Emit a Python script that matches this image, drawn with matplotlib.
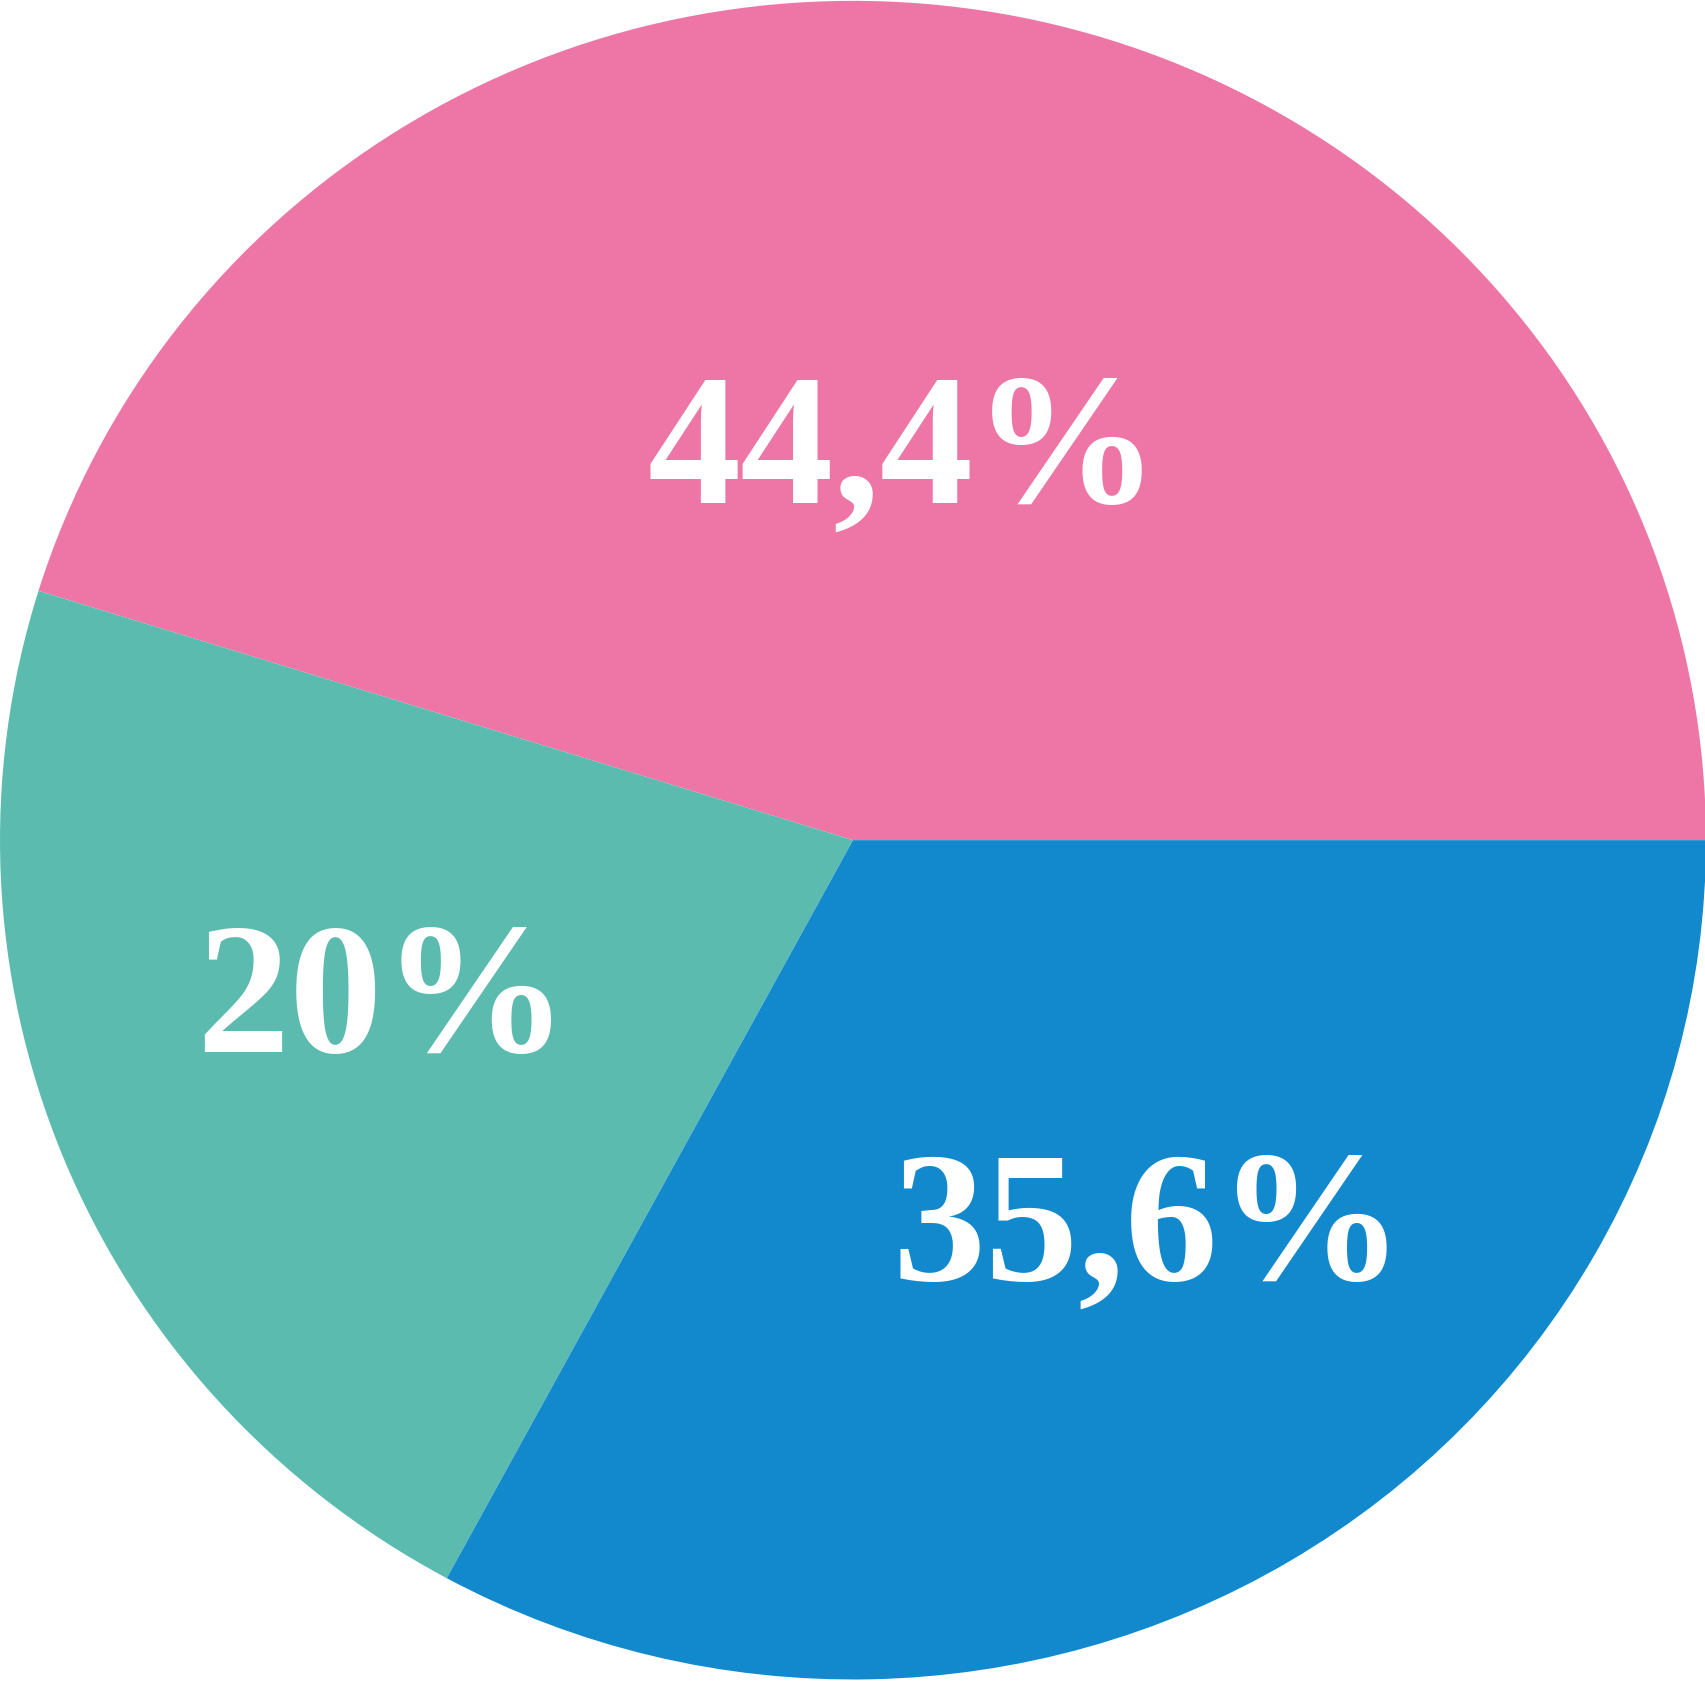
import matplotlib
matplotlib.use("Agg")
import matplotlib.pyplot as plt

categories = ["A", "B", "C"]
wedge_values = [45.2, 21.9, 32.9]
# printed labels
labels = ["44,4%", "20%", "35,6%"]
colors = ["#EE76A6", "#5BBBAE", "#1289CC"]
label_pos = [(0.059, 0.402), (-0.552, -0.252), (0.346, -0.524)]

fig = plt.figure(figsize=(17.06, 16.82), dpi=100)
ax = fig.add_axes([0, 0, 1, 1])
ax.pie(wedge_values, colors=colors, startangle=0, counterclock=True, radius=1.0,
       wedgeprops=dict(linewidth=0, edgecolor="none"))
ax.set_aspect("auto")
ax.set_xlim(-1.0, 1.0)
ax.set_ylim(-1.003, 1.001)
ax.axis("off")

for lab, (x, y) in zip(labels, label_pos):
    ax.text(x, y, lab, ha="center", va="baseline", color="white",
            fontsize=134, fontweight="bold", family=["Liberation Serif", "DejaVu Serif"])

fig.savefig("out.png", dpi=100, facecolor="white")
